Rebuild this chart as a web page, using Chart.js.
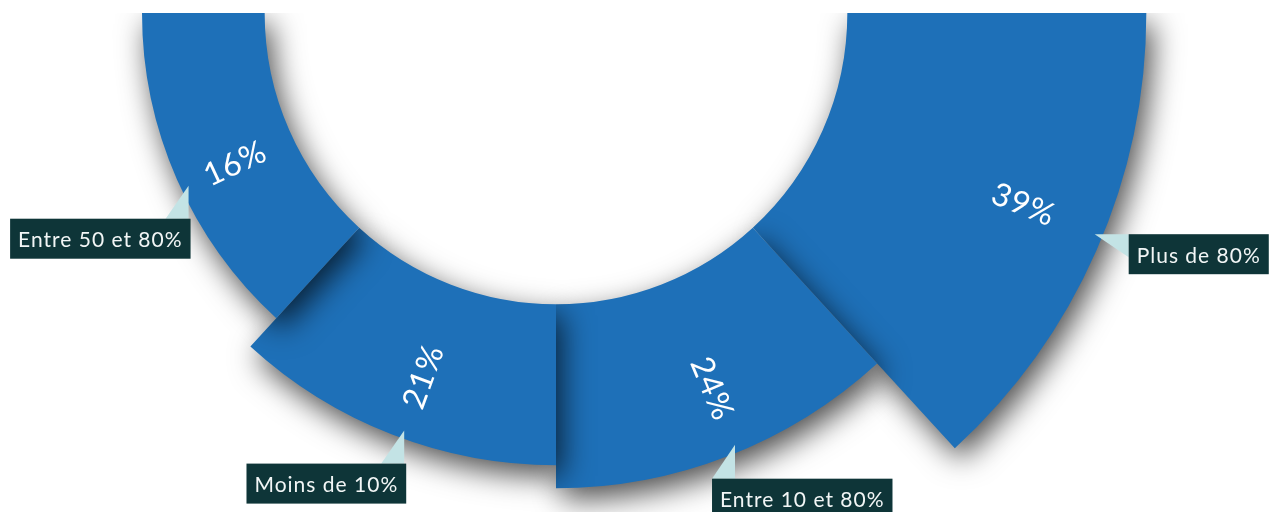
<!DOCTYPE html>
<html lang="fr">
<head>
<meta charset="utf-8">
<title>Répartition</title>
<script src="https://cdn.jsdelivr.net/npm/chart.js@4.4.1/dist/chart.umd.min.js"></script>
<style>
  html, body { margin: 0; padding: 0; background: #ffffff; }
  body { width: 1279px; height: 512px; overflow: hidden; position: relative; }
  /* the ring is cut flat along its diameter */
  #cadre { position: absolute; left: 0; top: 13px; width: 1279px; height: 499px; overflow: hidden; }
  #graphique { position: absolute; left: -167px; top: -598px; }
</style>
</head>
<body>
<div id="cadre"><canvas id="graphique" width="1446" height="1196"></canvas></div>
<script>
// slices, clockwise from the right
const categories = ['Plus de 80%', 'Entre 10 et 80%', 'Moins de 10%', 'Entre 50 et 80%'];
const valeurs = [39, 24, 21, 16];
const anglesParts = [47.5, 42.5, 42.5, 47.5];

const echelleMin = -38;
const echelleMax = 40;

const bleu = '#1e70b8';
const fondEtiquette = '#0e3538';
const pointe = '#c3e3e5';

// the value 0 sits on the inner edge, so the wedges become a ring
const anneau = {
    id: 'anneau',
    beforeDatasetsDraw(chart) {
        const interieur = chart.scales.r.getDistanceFromCenterForValue(0);
        chart.getDatasetMeta(0).data.forEach(arc => { arc.innerRadius = interieur; });
    }
};

const ombre = {
    id: 'ombre',
    beforeDatasetDraw(chart) {
        const ctx = chart.ctx;
        ctx.save();
        ctx.shadowColor = 'rgba(0, 0, 0, 0.7)';
        ctx.shadowBlur = 30;
        ctx.shadowOffsetX = 6;
        ctx.shadowOffsetY = 11;
    },
    afterDatasetDraw(chart) {
        chart.ctx.restore();
    }
};

const etiquettes = {
    id: 'etiquettes',
    afterDatasetsDraw(chart) {
        const ctx = chart.ctx;
        const arcs = chart.getDatasetMeta(0).data;
        arcs.forEach((arc, i) => {
            const a = arc.startAngle + 0.47 * (arc.endAngle - arc.startAngle);
            const cos = Math.cos(a), sin = Math.sin(a);

            // percentage along the radius
            const rp = 0.856 * arc.outerRadius;
            ctx.save();
            ctx.translate(arc.x + cos * rp, arc.y + sin * rp);
            ctx.rotate(cos >= 0 ? a : a + Math.PI);
            ctx.font = '32px Lato';
            ctx.letterSpacing = '1px';
            ctx.fillStyle = '#ffffff';
            ctx.textAlign = 'center';
            ctx.textBaseline = 'middle';
            ctx.fillText(valeurs[i] + '%', 0, 0);
            ctx.restore();

            // category tag with its pointer
            const rt = arc.outerRadius - 8;
            const tx = arc.x + cos * rt, ty = arc.y + sin * rt;
            ctx.save();
            ctx.font = '21px Lato';
            ctx.letterSpacing = '1px';
            const l = ctx.measureText(categories[i]).width + 16;
            const h = 40;
            let bx, by, tri;
            if (a < Math.PI / 4) {
                bx = tx + 34; by = ty;
                tri = [[tx, ty], [bx, ty], [bx, ty + 23]];
            } else if (cos >= 0) {
                bx = tx - 23; by = ty + 34;
                tri = [[tx, ty], [tx, by], [bx, by]];
            } else {
                bx = tx + 2 - l; by = ty + 33;
                tri = [[tx, ty], [tx, by], [tx - 23, by]];
            }
            ctx.fillStyle = pointe;
            ctx.beginPath();
            ctx.moveTo(tri[0][0], tri[0][1]);
            ctx.lineTo(tri[1][0], tri[1][1]);
            ctx.lineTo(tri[2][0], tri[2][1]);
            ctx.closePath();
            ctx.fill();
            ctx.fillStyle = fondEtiquette;
            ctx.fillRect(bx, by, l, h);
            ctx.fillStyle = '#f2f6f6';
            ctx.textAlign = 'left';
            ctx.textBaseline = 'middle';
            ctx.fillText(categories[i], bx + 8, by + 22);
            ctx.restore();
        });
    }
};

new Chart(document.getElementById('graphique'), {
    type: 'polarArea',
    data: {
        labels: categories,
        datasets: [{
            data: valeurs,
            angle: anglesParts,
            backgroundColor: bleu,
            borderWidth: 0
        }]
    },
    options: {
        responsive: false,
        animation: false,
        events: [],
        layout: { padding: 0 },
        scales: {
            r: {
                min: echelleMin,
                max: echelleMax,
                startAngle: 90,
                ticks: { display: false },
                grid: { display: false },
                angleLines: { display: false },
                pointLabels: { display: false }
            }
        },
        plugins: { legend: { display: false }, tooltip: { enabled: false } }
    },
    plugins: [anneau, ombre, etiquettes]
});
</script>
</body>
</html>
